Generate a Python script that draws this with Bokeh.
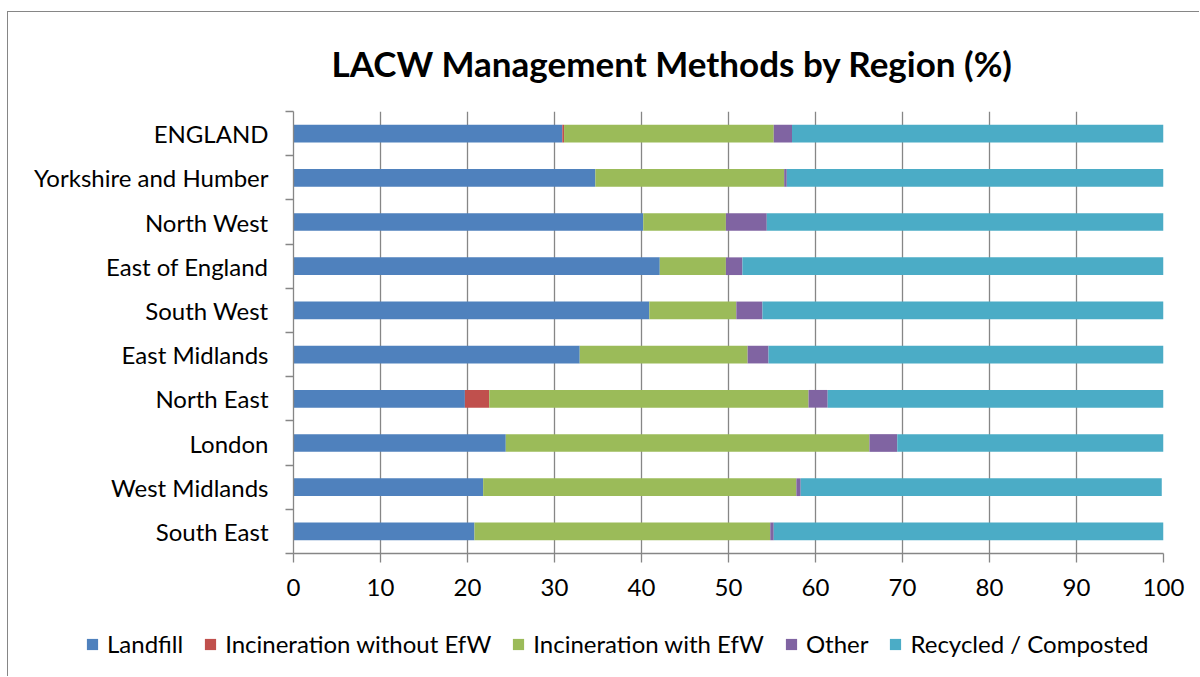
from bokeh.plotting import figure
from bokeh.models import ColumnDataSource, FixedTicker, Legend, LegendItem, Range1d
from bokeh.embed import file_html
from bokeh.resources import INLINE

# ---- data ----
regions = ["ENGLAND", "Yorkshire and Humber", "North West", "East of England",
           "South West", "East Midlands", "North East", "London",
           "West Midlands", "South East"]
landfill = [30.9, 34.7, 40.2, 42.1, 40.9, 32.9, 19.7, 24.4, 21.8, 20.8]
incin_without = [0.2, 0.0, 0.0, 0.0, 0.0, 0.0, 2.8, 0.0, 0.0, 0.0]
incin_with = [24.1, 21.7, 9.5, 7.6, 10.0, 19.3, 36.7, 41.8, 36.0, 34.0]
other = [2.1, 0.3, 4.7, 1.9, 3.0, 2.4, 2.2, 3.2, 0.5, 0.4]
recycled = [42.7, 43.3, 45.6, 48.4, 46.1, 45.4, 38.6, 30.6, 41.5, 44.8]
series = ["Landfill", "Incineration without EfW", "Incineration with EfW",
          "Other", "Recycled / Composted"]
colors = ["#4F81BD", "#C0504D", "#9BBB59", "#8064A2", "#4BACC6"]
x_ticks = [0, 10, 20, 30, 40, 50, 60, 70, 80, 90, 100]

FONT = "Lato"
GRAY = "#868686"

n = len(regions)
ypos = [n - 1 - i for i in range(n)]  # first region at top
keys = ["s0", "s1", "s2", "s3", "s4"]
source = ColumnDataSource(dict(y=ypos, s0=landfill, s1=incin_without, s2=incin_with,
                               s3=other, s4=recycled))

W = 1192
p = figure(width=W, height=603, output_backend="svg", toolbar_location=None,
           x_range=Range1d(0, 100), y_range=Range1d(-0.5, n - 0.5),
           min_border_left=285, min_border_right=37, min_border_top=99,
           min_border_bottom=62)
p.outline_line_color = None
p.background_fill_color = "white"
p.border_fill_color = "white"

renderers = p.hbar_stack(keys, y="y", height=0.4, color=colors, source=source,
                         line_color=None)

# title
p.title.text = "LACW Management Methods by Region (%)"
p.title.text_font = FONT
p.title.text_font_size = "35px"
p.title.text_font_style = "bold"
p.title.text_color = "black"
p.title.align = "left"
p.title.offset = 38
p.title.standoff = 55

# x axis
p.xaxis.ticker = FixedTicker(ticks=x_ticks)
p.xaxis.major_tick_out = 9
p.xaxis.major_tick_in = 0
p.xaxis.minor_tick_line_color = None
p.xaxis.axis_line_color = GRAY
p.xaxis.major_tick_line_color = GRAY
p.xaxis.axis_line_width = 1.3
p.xaxis.major_tick_line_width = 1.3
p.xaxis.major_label_text_font = FONT
p.xaxis.major_label_text_font_size = "24px"
p.xaxis.major_label_text_color = "black"
p.xaxis.major_label_standoff = 16

# y axis: labels at centers, tick marks between categories
boundaries = [i - 0.5 for i in range(n + 1)]
p.yaxis.ticker = FixedTicker(ticks=ypos, minor_ticks=boundaries)
p.yaxis.major_label_overrides = {y: r for y, r in zip(ypos, regions)}
p.yaxis.major_tick_out = 0
p.yaxis.major_tick_in = 0
p.yaxis.minor_tick_out = 8
p.yaxis.minor_tick_in = 0
p.yaxis.minor_tick_line_color = GRAY
p.yaxis.minor_tick_line_width = 1.3
p.yaxis.axis_line_color = GRAY
p.yaxis.axis_line_width = 1.3
p.yaxis.major_label_text_font = FONT
p.yaxis.major_label_text_font_size = "24px"
p.yaxis.major_label_text_color = "black"
p.yaxis.major_label_standoff = 17

p.xgrid.grid_line_color = GRAY
p.xgrid.grid_line_width = 1.3
p.ygrid.grid_line_color = None

p.styles = {"margin-left": "7px", "margin-top": "11px",
            "border-left": "1px solid #868686", "border-top": "1px solid #868686"}

# legend strip: separate root so its frame spans the full width
q = figure(width=W, height=62, output_backend="svg", toolbar_location=None,
           x_range=Range1d(0, 1), y_range=Range1d(0, 1),
           min_border_left=0, min_border_right=0, min_border_top=0,
           min_border_bottom=0)
q.axis.visible = False
q.grid.visible = False
q.outline_line_color = None
q.border_fill_color = "white"
q.background_fill_alpha = 0
# one off-range row per series, only so the legend has a glyph to draw
proxy = ColumnDataSource(dict(y=[10], left=[0], right=[0]))
legend_renderers = [q.hbar(y="y", left="left", right="right", height=0.4,
                           color=c, line_color=None, source=proxy) for c in colors]
legend = Legend(items=[LegendItem(label=s, renderers=[r])
                       for s, r in zip(series, legend_renderers)],
                orientation="horizontal", location=(77, 18),
                glyph_width=14, glyph_height=14, label_standoff=8, spacing=20,
                padding=0, margin=0, border_line_color=None,
                background_fill_alpha=0,
                label_text_font=FONT, label_text_font_size="24px",
                label_text_color="black")
q.add_layout(legend, "center")
q.styles = {"margin-left": "7px", "border-left": "1px solid #868686"}

open("out.html", "w").write(file_html([p, q], INLINE))
